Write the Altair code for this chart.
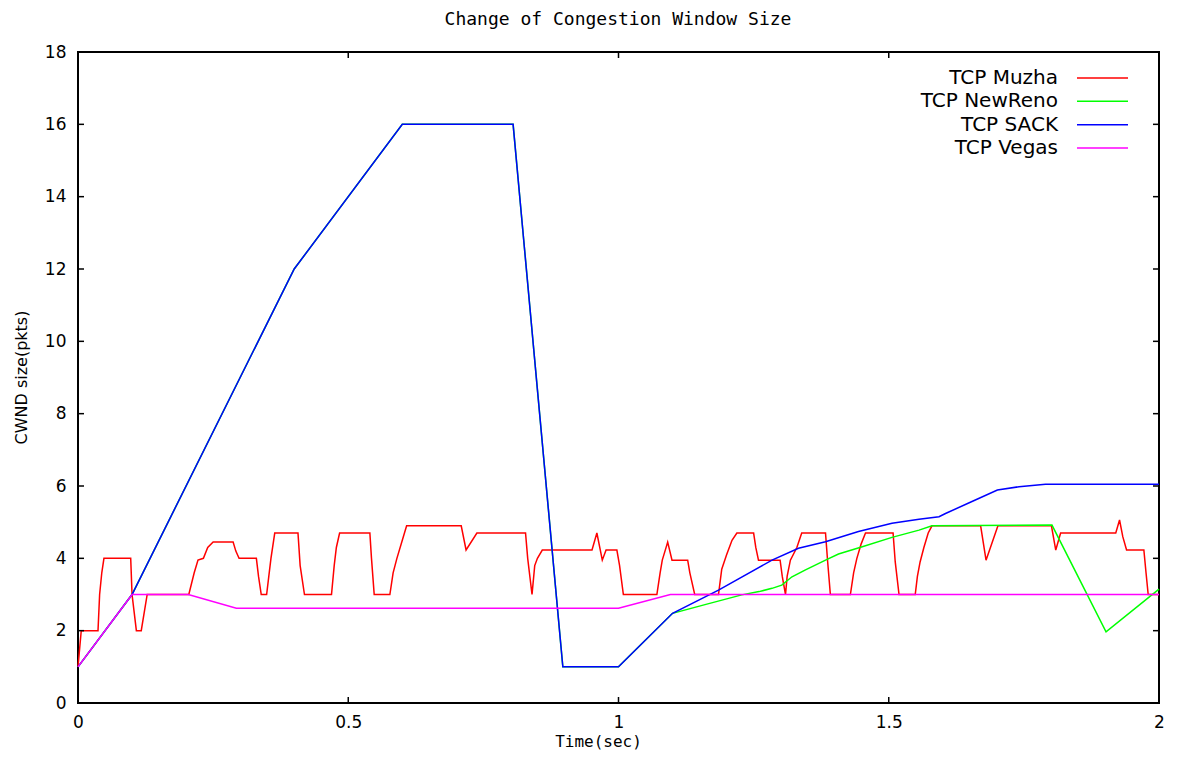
import altair as alt
import pandas as pd

chart_title = "Change of Congestion Window Size"
series_names = ["TCP Muzha", "TCP NewReno", "TCP SACK", "TCP Vegas"]
series_colors = ["#ff0000", "#00ff00", "#0000ff", "#ff00ff"]

muzha_t = [0.000, 0.006, 0.037, 0.040, 0.044, 0.048, 0.0975, 0.100, 0.104, 0.108, 0.117, 0.128,
           0.205, 0.215, 0.222, 0.232, 0.240, 0.250, 0.287, 0.292, 0.298, 0.330, 0.334, 0.339,
           0.349, 0.353, 0.357, 0.364, 0.407, 0.411, 0.419, 0.469, 0.474, 0.478, 0.484, 0.540,
           0.543, 0.548, 0.577, 0.583, 0.590, 0.600, 0.608, 0.709, 0.718, 0.738, 0.828, 0.832,
           0.840, 0.845, 0.850, 0.859, 0.951, 0.960, 0.970, 0.977, 0.997, 1.002, 1.009, 1.071,
           1.077, 1.081, 1.086, 1.091, 1.099, 1.128, 1.132, 1.141, 1.185, 1.191, 1.200, 1.210,
           1.219, 1.250, 1.254, 1.259, 1.299, 1.303, 1.309, 1.312, 1.318, 1.330, 1.339, 1.383,
           1.387, 1.392, 1.429, 1.435, 1.441, 1.449, 1.457, 1.508, 1.512, 1.519, 1.549, 1.553,
           1.558, 1.565, 1.573, 1.580, 1.670, 1.680, 1.702, 1.801, 1.809, 1.818, 1.920, 1.927,
           1.933, 1.940, 1.972, 1.976, 1.980, 2.000]
muzha_w = [1.0, 2.0, 2.0, 3.0, 3.6, 4.0, 4.0, 3.0, 2.5, 2.0, 2.0, 3.0,
           3.0, 3.6, 3.95, 4.0, 4.3, 4.45, 4.45, 4.2, 4.0, 4.0, 3.5, 3.0,
           3.0, 3.5, 4.0, 4.7, 4.7, 3.8, 3.0, 3.0, 3.8, 4.3, 4.7, 4.7,
           4.0, 3.0, 3.0, 3.6, 4.0, 4.5, 4.9, 4.9, 4.23, 4.7, 4.7, 4.0,
           3.0, 3.8, 4.0, 4.23, 4.23, 4.7, 3.95, 4.23, 4.23, 3.8, 3.0, 3.0,
           3.6, 3.95, 4.2, 4.45, 3.95, 3.95, 3.6, 3.0, 3.0, 3.7, 4.1, 4.5,
           4.7, 4.7, 4.3, 3.95, 3.95, 3.5, 3.0, 3.5, 3.95, 4.3, 4.7, 4.7,
           3.9, 3.0, 3.0, 3.6, 4.0, 4.4, 4.7, 4.7, 3.9, 3.0, 3.0, 3.5,
           3.9, 4.3, 4.7, 4.9, 4.9, 3.95, 4.9, 4.9, 4.23, 4.7, 4.7, 5.06,
           4.6, 4.23, 4.23, 3.6, 3.0, 3.0]

newreno_t = [0.0, 0.1, 0.4, 0.6, 0.805, 0.897, 1.0, 1.1, 1.16, 1.228, 1.26, 1.284, 1.302, 1.321,
             1.346, 1.383, 1.407, 1.451, 1.506, 1.556, 1.580, 1.802, 1.902, 2.0]
newreno_w = [1.0, 3.0, 12.0, 16.0, 16.0, 1.0, 1.0, 2.48, 2.72, 2.99, 3.08, 3.17, 3.26, 3.49,
             3.68, 3.95, 4.12, 4.32, 4.58, 4.78, 4.9, 4.92, 1.97, 3.15]

sack_t = [0.0, 0.1, 0.4, 0.6, 0.805, 0.897, 1.0, 1.1, 1.185, 1.284, 1.333, 1.383, 1.444, 1.506,
          1.556, 1.593, 1.605, 1.654, 1.701, 1.741, 1.790, 2.0]
sack_w = [1.0, 3.0, 12.0, 16.0, 16.0, 1.0, 1.0, 2.48, 3.12, 3.95, 4.28, 4.46, 4.74, 4.97,
          5.08, 5.15, 5.24, 5.57, 5.89, 5.98, 6.05, 6.05]

vegas_t = [0.0, 0.1, 0.204, 0.293, 1.0, 1.096, 2.0]
vegas_w = [1.0, 3.0, 3.0, 2.62, 2.62, 3.0, 3.0]

x_ticks = [0, 0.5, 1, 1.5, 2]
y_ticks = [0, 2, 4, 6, 8, 10, 12, 14, 16, 18]

frames = []
for name, ts, ws in [("TCP Muzha", muzha_t, muzha_w), ("TCP NewReno", newreno_t, newreno_w),
                     ("TCP SACK", sack_t, sack_w), ("TCP Vegas", vegas_t, vegas_w)]:
    frames.append(pd.DataFrame({"t": ts, "cwnd": ws, "series": name, "idx": range(len(ts))}))
df = pd.concat(frames, ignore_index=True)

xt_df = pd.DataFrame({"v": x_ticks})
yt_df = pd.DataFrame({"v": y_ticks})
leg_df = pd.DataFrame({"series": series_names})
title_df = pd.DataFrame({"title": [chart_title]})

W, H = 1081, 651
xscale = alt.Scale(domain=[0, 2], nice=False, zero=False)
yscale = alt.Scale(domain=[0, 18], nice=False, zero=False)
cscale = alt.Scale(domain=series_names, range=series_colors)

x_axis = alt.Axis(
    values=x_ticks, labelExpr="'' + datum.value", ticks=False, tickSize=0, domain=False, grid=False,
    labelFlush=False,
    labelFont="DejaVu Sans", labelFontSize=17, labelColor="black", labelPadding=11,
    title="Time(sec)", titleFont="DejaVu Sans Mono", titleFontSize=16, titleFontWeight="normal",
    titleColor="black", titleX=520, titleY=38, titleBaseline="middle", titleAnchor="middle")

lines = alt.Chart(df).mark_line(strokeWidth=1.5).encode(
    x=alt.X("t:Q", scale=xscale, axis=x_axis),
    y=alt.Y("cwnd:Q", scale=yscale, axis=alt.Axis(
        values=y_ticks, ticks=False, tickSize=0, domain=False, grid=False, labelFlush=False,
        labelFont="DejaVu Sans", labelFontSize=17, labelColor="black", labelPadding=12,
        title="CWND size(pkts)", titleFont="DejaVu Sans", titleFontSize=16, titleFontWeight="normal",
        titleColor="black", titleX=-57, titleY=325, titleBaseline="middle", titleAngle=270)),
    color=alt.Color("series:N", scale=cscale, legend=None),
    order="idx:Q",
)

def yticks(x0, x1):
    return alt.Chart(yt_df).mark_rule(color="black", strokeWidth=1.5).encode(
        x=alt.value(x0), x2=alt.value(x1), y=alt.Y("v:Q", scale=yscale, axis=None))

def xticks(y0, y1):
    return alt.Chart(xt_df).mark_rule(color="black", strokeWidth=1.5).encode(
        y=alt.value(y0), y2=alt.value(y1), x=alt.X("v:Q", scale=xscale, axis=x_axis))

leg_y = alt.Y("series:N", scale=alt.Scale(type="point", domain=series_names, range=[26, 96], padding=0), axis=None)
leg_text = alt.Chart(leg_df).mark_text(align="right", baseline="middle", font="DejaVu Sans",
                                       fontSize=20, color="black").encode(
    x=alt.value(980), y=leg_y, text="series:N")
leg_rule = alt.Chart(leg_df).mark_rule(strokeWidth=1.5).encode(
    x=alt.value(999), x2=alt.value(1050), y=leg_y,
    color=alt.Color("series:N", scale=cscale, legend=None))

title_mark = alt.Chart(title_df).mark_text(align="center", baseline="alphabetic", font="DejaVu Sans Mono",
                                           fontSize=18, color="black").encode(
    x=alt.value(540), y=alt.value(-27), text="title:N")

chart = alt.layer(
    lines, yticks(0, 6), yticks(W - 6, W), xticks(H, H - 6), xticks(0, 6), leg_text, leg_rule, title_mark
).resolve_scale(y="independent").properties(
    width=W, height=H,
    autosize=alt.AutoSizeParams(type="none"),
    padding={"left": 70, "top": 44, "right": 16, "bottom": 47},
).configure_view(stroke="black", strokeWidth=2)

chart.save("out.html", embed_options={"renderer": "svg", "actions": False})
